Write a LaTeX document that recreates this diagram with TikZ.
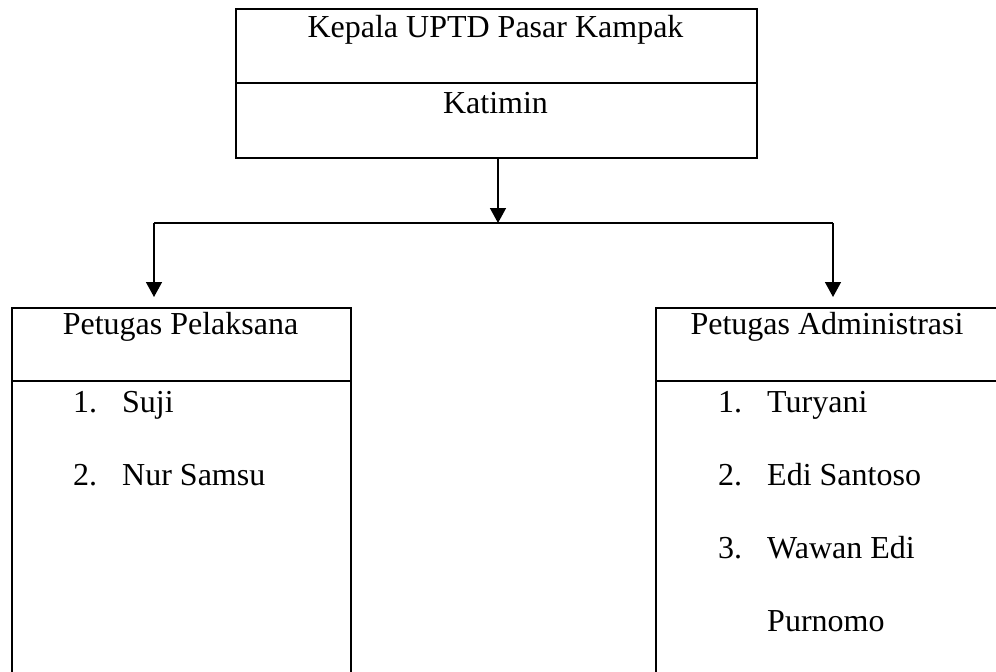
\documentclass[tikz,border=0pt]{standalone}
\usepackage{fontspec}
\setmainfont{Liberation Serif}
\usetikzlibrary{arrows.meta}
\begin{document}
\begin{tikzpicture}[x=1pt,y=-1pt,
  box/.style={draw,line width=2pt,rectangle,inner sep=0pt,anchor=north west},
  divline/.style={line width=2pt},
  conn/.style={line width=1.5pt},
  arr/.style={conn,-{Triangle[width=16pt,length=15pt]}},
  txt/.style={inner sep=0pt,anchor=base,font=\fontsize{32}{38}\selectfont},
  ltxt/.style={inner sep=0pt,anchor=base west,font=\fontsize{32}{38}\selectfont}]
\useasboundingbox (0,0) rectangle (996,672);
% boxes
\node[box,minimum width=521pt,minimum height=149pt] (top) at (235,8) {};
\node[box,minimum width=339pt,minimum height=380pt] (pel) at (11,307) {};
\node[box,minimum width=345pt,minimum height=380pt] (adm) at (655,307) {};
% dividers
\coordinate (d1) at (0,83);
\coordinate (d2) at (0,381);
\draw[divline] (top.west |- d1) -- (top.east |- d1);
\draw[divline] (pel.west |- d2) -- (pel.east |- d2);
\draw[divline] (adm.west |- d2) -- (adm.east |- d2);
% texts
\node[txt] (t1) at (495.5,37) {Kepala UPTD Pasar Kampak};
\node[txt] (t2) at (495.5,113) {Katimin};
\node[txt] (p0) at (180.5,334) {Petugas Pelaksana};
\node[ltxt] (pn1) at (73,412) {1.};
\node[ltxt] (p1) at (122,412) {Suji};
\node[ltxt] (pn2) at (73,485) {2.};
\node[ltxt] (p2) at (122,485) {Nur Samsu};
\node[txt] (a0) at (827,334) {Petugas Administrasi};
\node[ltxt] (an1) at (718,412) {1.};
\node[ltxt] (a1) at (767,412) {Turyani};
\node[ltxt] (an2) at (718,485) {2.};
\node[ltxt] (a2) at (767,485) {Edi Santoso};
\node[ltxt] (an3) at (718,558) {3.};
\node[ltxt] (a3) at (767,558) {Wawan Edi};
\node[ltxt] (a4) at (767,631) {Purnomo};
% connectors
\coordinate (j) at (498,223);
\coordinate (jl) at (154,223);
\coordinate (jr) at (833,223);
\draw[arr] (top.south -| j) -- (j);
\draw[conn] (jl) -- (jr);
\draw[arr,shorten >=10pt] (jl) -- (jl |- pel.north);
\draw[arr,shorten >=10pt] (jr) -- (jr |- adm.north);
\end{tikzpicture}
\end{document}
